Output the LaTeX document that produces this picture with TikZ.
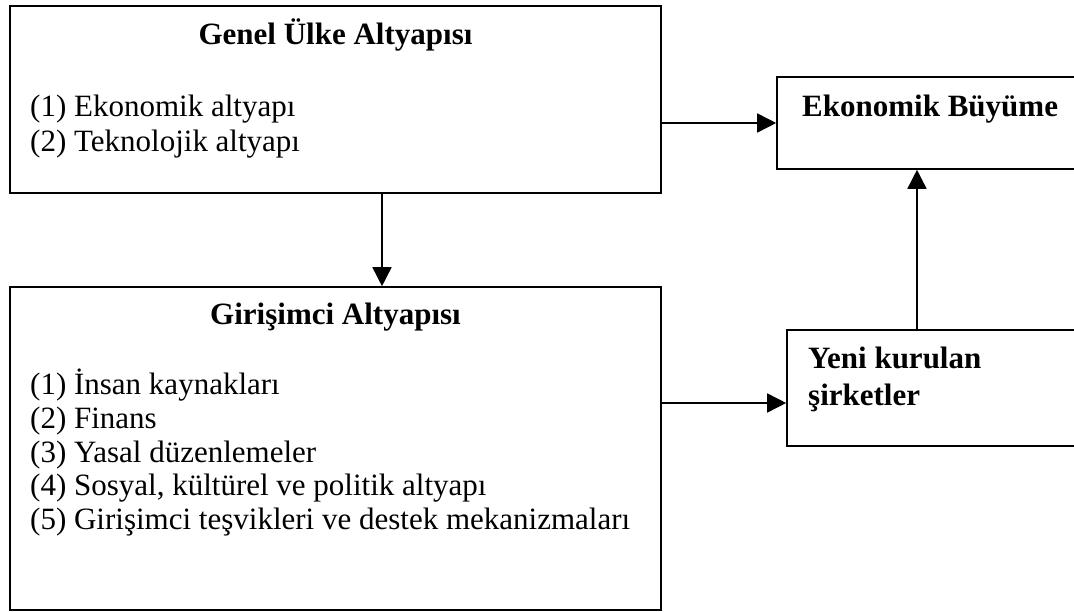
\documentclass[tikz,border=0pt]{standalone}
\usepackage{fontspec}
\setmainfont{Liberation Serif}
\usetikzlibrary{arrows.meta}
\tikzset{
  box/.style={draw, line width=1.6pt, inner sep=0pt},
  label/.style={inner sep=0pt, anchor=base west, font=\fontsize{31}{35}\selectfont},
  title/.style={inner sep=0pt, anchor=base, font=\fontsize{31}{35}\selectfont\bfseries},
  arr/.style={line width=1.6pt, -{Triangle[length=19pt,width=19pt]}}
}
\begin{document}
\begin{tikzpicture}[x=1pt,y=-1pt]
    \useasboundingbox (0,0) rectangle (1074,612);
    \clip (0,0) rectangle (1074,612);
    \node[box, minimum width=651pt, minimum height=187pt] (genel) at (335.5,99.5) {};
    \node[box, minimum width=651pt, minimum height=323pt] (girisim) at (335.5,448.5) {};
    \node[box, minimum width=313pt, minimum height=92pt] (buyume) at (933.5,123) {};
    \node[box, minimum width=303pt, minimum height=116pt] (yeni) at (938.5,388) {};
    % texts
    \node[title] (genelT) at (335.5,45) {Genel Ülke Altyapısı};
    \node[label] (genel1) at (30,117) {(1) Ekonomik altyapı};
    \node[label] (genel2) at (30,152) {(2) Teknolojik altyapı};
    \node[title] (girisimT) at (335.5,325) {Girişimci Altyapısı};
    \foreach \t [count=\i] in {İnsan kaynakları, Finans, Yasal düzenlemeler,
        {Sosyal, kültürel ve politik altyapı}, Girişimci teşvikleri ve destek mekanizmaları}
        \node[label] (girisim\i) at (30,{395+33.5*(\i-1)}) {(\i) \t};
    \node[label, font=\fontsize{31}{35}\selectfont\bfseries] (buyumeT) at (802,117) {Ekonomik Büyüme};
    \node[label, font=\fontsize{31}{35}\selectfont\bfseries] (yeniT1) at (808,368) {Yeni kurulan};
    \node[label, font=\fontsize{31}{35}\selectfont\bfseries] (yeniT2) at (808,405) {şirketler};
    % arrows
    \coordinate (downx) at (382,0);
    \coordinate (rowy) at (0,403);
    \coordinate (upx) at (917,0);
    \draw[arr] (genel.east |- buyume.west) -- (buyume.west);
    \draw[arr] (genel.south -| downx) -- (girisim.north -| downx);
    \draw[arr] (girisim.east |- rowy) -- (yeni.west |- rowy);
    \draw[arr] (yeni.north -| upx) -- (buyume.south -| upx);
\end{tikzpicture}
\end{document}
